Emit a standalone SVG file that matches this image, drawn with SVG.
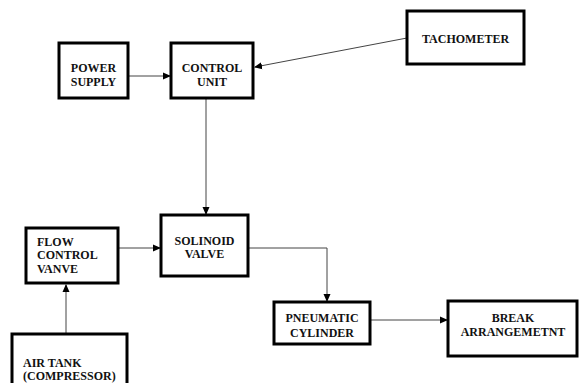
<svg xmlns="http://www.w3.org/2000/svg" width="579" height="383" viewBox="0 0 579 383">
<style>
.box{fill:#fff;stroke:#000;stroke-width:3}
.t{font-family:'Liberation Serif','DejaVu Serif',serif;font-weight:700;font-size:12px;fill:#111}
.m{text-anchor:middle}
.c{fill:none;stroke:#444;stroke-width:1}
</style>
<defs>
<marker id="ah" markerWidth="8" markerHeight="8" refX="7" refY="4" orient="auto" markerUnits="userSpaceOnUse">
<path d="M0,0.5 L8,4 L0,7.5 Z" fill="#000"/>
</marker>
</defs>
<rect width="579" height="383" fill="#fff"/>
<g id="connectors">
<line class="c" x1="128" y1="76" x2="170" y2="76" marker-end="url(#ah)"/>
<line class="c" x1="407" y1="38" x2="255" y2="67" marker-end="url(#ah)"/>
<line class="c" x1="206" y1="99" x2="206" y2="214" marker-end="url(#ah)"/>
<line class="c" x1="118" y1="248" x2="160" y2="248" marker-end="url(#ah)"/>
<polyline class="c" points="248,248 327,248 327,301" marker-end="url(#ah)"/>
<line class="c" x1="66" y1="334" x2="66" y2="285" marker-end="url(#ah)"/>
<line class="c" x1="370" y1="320" x2="447" y2="320" marker-end="url(#ah)"/>
</g>
<g id="power-supply">
<rect class="box" x="59" y="43" width="69" height="55"/>
<text class="t m" x="93.5" y="72">POWER</text>
<text class="t m" x="93.5" y="86">SUPPLY</text>
</g>
<g id="control-unit">
<rect class="box" x="171" y="43" width="82" height="55"/>
<text class="t m" x="212" y="72">CONTROL</text>
<text class="t m" x="212" y="86">UNIT</text>
</g>
<g id="tachometer">
<rect class="box" x="407" y="11" width="117" height="53"/>
<text class="t m" x="465.5" y="43">TACHOMETER</text>
</g>
<g id="solinoid-valve">
<rect class="box" x="161" y="215" width="87" height="61"/>
<text class="t m" x="204.5" y="245">SOLINOID</text>
<text class="t m" x="204.5" y="258">VALVE</text>
</g>
<g id="flow-control-vanve">
<rect class="box" x="26" y="228" width="92" height="55"/>
<text class="t" x="37" y="246">FLOW</text>
<text class="t" x="37" y="259">CONTROL</text>
<text class="t" x="37" y="273">VANVE</text>
</g>
<g id="pneumatic-cylinder">
<rect class="box" x="274" y="302" width="96" height="42"/>
<text class="t m" x="322" y="322">PNEUMATIC</text>
<text class="t m" x="322" y="337">CYLINDER</text>
</g>
<g id="break-arrangemetnt">
<rect class="box" x="448" y="301" width="129" height="55"/>
<text class="t m" x="513" y="322">BREAK</text>
<text class="t m" x="513" y="336">ARRANGEMETNT</text>
</g>
<g id="air-tank">
<rect class="box" x="12" y="334" width="115" height="60"/>
<text class="t" x="23" y="367">AIR TANK</text>
<text class="t" x="23" y="380">(COMPRESSOR)</text>
</g>
</svg>
